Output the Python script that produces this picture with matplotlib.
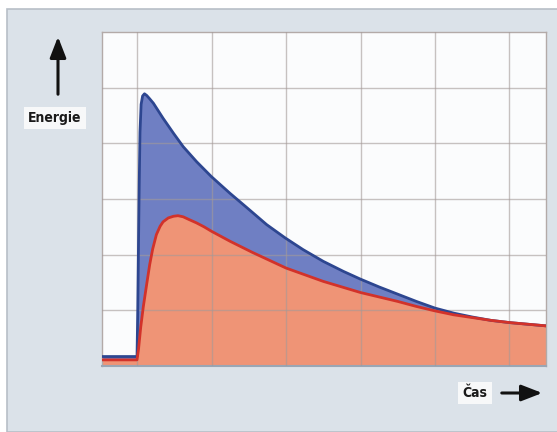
import numpy as np
import matplotlib
matplotlib.use("Agg")
import matplotlib.pyplot as plt
from matplotlib.patches import Rectangle, FancyArrowPatch

# values (x and y in grid units)
blue_x = [-0.47, 0.0, 0.01, 0.02, 0.03, 0.04, 0.055, 0.075, 0.10, 0.13, 0.17, 0.22,
          0.35, 0.49, 0.62, 0.80, 1.0, 1.25, 1.47, 1.74, 1.99, 2.23, 2.50, 2.77,
          3.0, 3.25, 3.5, 3.75, 4.0, 4.25, 4.5, 4.75, 5.0, 5.25, 5.5]
blue_y = [0.17, 0.17, 1.0, 2.2, 3.3, 4.2, 4.7, 4.85, 4.89, 4.86, 4.80, 4.72,
          4.45, 4.18, 3.94, 3.67, 3.40, 3.10, 2.85, 2.54, 2.30, 2.09, 1.88, 1.70,
          1.56, 1.42, 1.29, 1.16, 1.04, 0.95, 0.88, 0.82, 0.78, 0.75, 0.72]

red_x = [-0.47, 0.0, 0.02, 0.05, 0.085, 0.13, 0.17, 0.21, 0.26, 0.31, 0.35, 0.42,
         0.49, 0.55, 0.62, 0.70, 0.80, 0.90, 1.0, 1.25, 1.55, 2.0, 2.5, 3.0, 3.5,
         3.75, 4.0, 4.25, 4.5, 4.75, 5.0, 5.25, 5.5]
red_y = [0.11, 0.11, 0.3, 0.7, 1.07, 1.47, 1.82, 2.10, 2.36, 2.51, 2.59, 2.66,
         2.69, 2.70, 2.68, 2.63, 2.57, 2.50, 2.42, 2.24, 2.04, 1.76, 1.52, 1.32, 1.16,
         1.07, 0.99, 0.92, 0.87, 0.82, 0.78, 0.75, 0.72]

fig = plt.figure(figsize=(5.57, 4.32), dpi=100)
fig.patch.set_facecolor("white")

# grey-blue panel behind everything
panel = Rectangle((7 / 557, 0), 1, 1 - 9 / 432, transform=fig.transFigure,
                  facecolor="#dbe2e9", edgecolor="#b7bfc7", lw=1.2, zorder=-10)
fig.patches.append(panel)

ax = fig.add_axes([102 / 557, 66 / 432, 444 / 557, 334 / 432])
ax.set_zorder(2)
ax.set_facecolor("#fbfcfd")

ax.fill_between(blue_x, 0, blue_y, color="#6f7fc3", lw=0, zorder=1)
ax.fill_between(red_x, 0, red_y, color="#ef9476", lw=0, zorder=2)

for gx in range(0, 6):
    ax.axvline(gx, color="#a49a98", lw=1.0, alpha=0.6, zorder=3)
for gy in range(1, 6):
    ax.axhline(gy, color="#a49a98", lw=1.0, alpha=0.6, zorder=3)

ax.plot(blue_x, blue_y, color="#2d4690", lw=2.0, zorder=4, solid_joinstyle="round")
ax.plot(red_x, red_y, color="#d2322a", lw=2.0, zorder=5, solid_joinstyle="round")

ax.set_xlim(-0.47, 5.49)
ax.set_ylim(0, 6)
ax.set_xticks([])
ax.set_yticks([])
for side in ["top", "left", "right"]:
    ax.spines[side].set_color("#b3aaa8")
    ax.spines[side].set_linewidth(1.0)
ax.spines["bottom"].set_color("#9aa6b4")
ax.spines["bottom"].set_linewidth(1.5)

font = ["DejaVu Sans"]

# y axis label with arrow
fig.text(55 / 557, 1 - 118 / 432, "Energie", family=font, weight="bold", fontsize=10,
         stretch="condensed", ha="center", va="center", color="#1a1a1a",
         bbox=dict(boxstyle="square,pad=0.3", facecolor="#f7f8f9", edgecolor="none"))
fig.add_artist(FancyArrowPatch(
    (58 / 557, 1 - 97 / 432), (58 / 557, 1 - 34 / 432), transform=fig.transFigure,
    arrowstyle="-|>,head_length=9,head_width=3.5", mutation_scale=1.4,
    color="#111111", lw=2.2))

# x axis label with arrow
fig.text(475 / 557, 1 - 393 / 432, "Čas", family=font, weight="bold", fontsize=10,
         stretch="condensed", ha="center", va="center", color="#1a1a1a",
         bbox=dict(boxstyle="square,pad=0.3", facecolor="#f7f8f9", edgecolor="none"))
fig.add_artist(FancyArrowPatch(
    (499 / 557, 1 - 393 / 432), (545 / 557, 1 - 393 / 432), transform=fig.transFigure,
    arrowstyle="-|>,head_length=9,head_width=3.5", mutation_scale=1.4,
    color="#111111", lw=2.2))

fig.savefig("out.png", dpi=100)
